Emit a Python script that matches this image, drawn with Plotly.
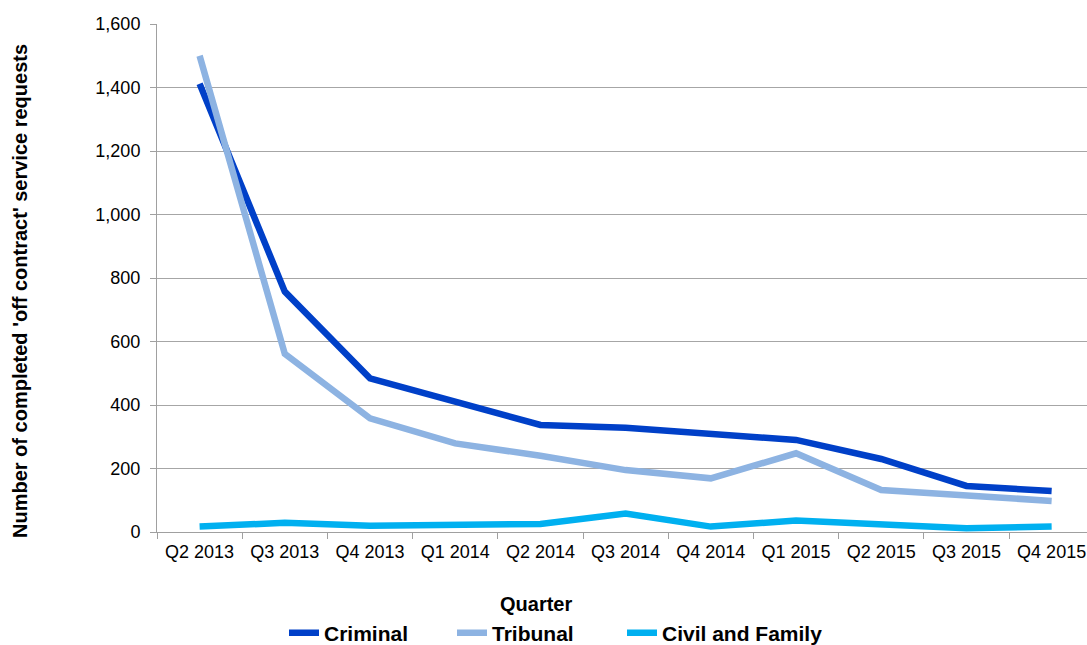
import plotly.graph_objects as go

# Quarterly counts of completed 'off contract' service requests
quarters = ["Q2 2013", "Q3 2013", "Q4 2013", "Q1 2014", "Q2 2014", "Q3 2014",
            "Q4 2014", "Q1 2015", "Q2 2015", "Q3 2015", "Q4 2015"]
criminal = [1412, 757, 484, 412, 337, 328, 311, 290, 230, 145, 129]
tribunal = [1500, 561, 358, 279, 240, 195, 169, 248, 132, 113, 98]
civil_family = [17, 29, 20, 20, 25, 58, 17, 36, 22, 12, 17]

series = [
    ("Criminal", criminal, "#0040C8"),
    ("Tribunal", tribunal, "#8DB3E2"),
    ("Civil and Family", civil_family, "#00B0F0"),
]

font_family = "Liberation Sans, Arial, sans-serif"
W, H = 1087, 645

# Each series gets its own legend box so the entries can be spaced evenly
legend_left_px = [284, 452, 622]
legend_ids = ["legend", "legend2", "legend3"]

fig = go.Figure()
for (name, values, color), lid in zip(series, legend_ids):
    fig.add_trace(go.Scatter(
        x=quarters, y=values, name=name, mode="lines",
        line=dict(color=color, width=6.5), legend=lid,
    ))

legend_style = dict(
    orientation="h", xanchor="left",
    xref="container", yref="container",
    y=(H - 633) / H, yanchor="middle",
    font=dict(size=21, family=font_family, weight="bold"),
    itemwidth=30, bgcolor="rgba(0,0,0,0)",
)

fig.update_layout(
    width=W, height=H,
    margin=dict(l=157, r=0, t=24, b=113, autoexpand=False),
    paper_bgcolor="white", plot_bgcolor="white",
    font=dict(family=font_family, size=18, color="#000000"),
    showlegend=True,
    xaxis=dict(
        type="category", range=[-0.5, 10.415],
        showgrid=False, showline=True, linecolor="#A0A0A0", linewidth=1,
        ticks="outside", tickson="boundaries", ticklen=6, tickcolor="#A0A0A0",
        tickfont=dict(size=18), automargin=False, ticklabelstandoff=3,
    ),
    yaxis=dict(
        range=[0, 1600], dtick=200, tickformat=",d",
        showgrid=True, gridcolor="#A6A6A6", gridwidth=1,
        showline=True, linecolor="#A0A0A0", linewidth=1,
        ticks="outside", ticklen=6, tickcolor="#A0A0A0",
        tickfont=dict(size=18), zeroline=False, automargin=False,
        ticklabelstandoff=6,
    ),
    annotations=[
        dict(text="<b>Quarter</b>", xref="paper", yref="paper",
             x=(536 - 157) / (W - 157), y=-(604 - 532) / (532 - 24),
             xanchor="center", yanchor="middle", showarrow=False,
             font=dict(size=20)),
        dict(text="<b>Number of completed 'off contract' service requests</b>",
             xref="paper", yref="paper", textangle=-90,
             x=-(157 - 20) / (W - 157), y=(532 - 291) / (532 - 24),
             xanchor="center", yanchor="middle", showarrow=False,
             font=dict(size=20)),
    ],
)

for lid, left in zip(legend_ids, legend_left_px):
    fig.update_layout({lid: dict(legend_style, x=left / W)})

fig.write_html("out.html")
